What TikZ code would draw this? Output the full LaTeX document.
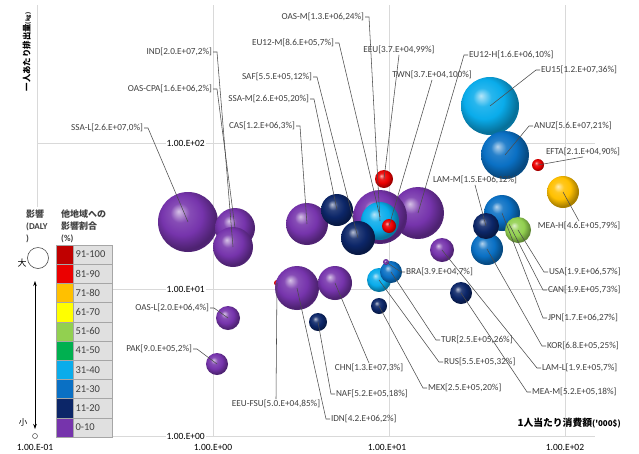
\documentclass[tikz,border=0pt]{standalone}
\usepackage{fontspec}
\setmainfont{Carlito}
\newfontfamily\jp{Noto Sans CJK JP}
\usetikzlibrary{arrows.meta}

\definecolor{cpur}{RGB}{118,52,172}
\definecolor{cnavy}{RGB}{12,38,104}
\definecolor{clblue}{RGB}{10,172,235}
\definecolor{cblue}{RGB}{10,112,196}
\definecolor{cred}{RGB}{235,0,0}
\definecolor{cdred}{RGB}{192,0,0}
\definecolor{cgold}{RGB}{255,192,0}
\definecolor{cyel}{RGB}{255,255,0}
\definecolor{clgreen}{RGB}{146,208,80}
\definecolor{cgreen}{RGB}{0,176,80}
\definecolor{gridc}{RGB}{217,217,217}
\definecolor{txt}{RGB}{64,64,64}
\definecolor{cellc}{RGB}{224,224,224}

\colorlet{sphc}{cpur}
\pgfdeclareradialshading[sphc]{sphere}{\pgfqpoint{-8bp}{9bp}}{%
  color(0bp)=(sphc!30!white); color(8bp)=(sphc!88!white);
  color(17bp)=(sphc); color(27bp)=(sphc!65!black);
  color(35bp)=(sphc!80!black); color(50bp)=(sphc!80!black)}

\begin{document}
\begin{tikzpicture}[x=1pt,y=-1pt,
  sphcol/.code={\colorlet{sphc}{#1}},
  sph/.style={circle, inner sep=0pt, draw=none, shading=sphere},
  lbl/.style={font=\fontsize{9.2}{11}\selectfont, text=txt, inner sep=0.8pt},
  axl/.style={font=\fontsize{9.5}{11}\selectfont, text=black, inner sep=1pt},
  lead/.style={draw=black!70, line width=0.55pt},
  gridln/.style={draw=gridc, line width=0.7pt},
  cell/.style={draw=black!35, line width=0.5pt, minimum width=17pt, minimum height=19.2pt, inner sep=0pt},
  lcell/.style={draw=black!35, fill=cellc, line width=0.5pt, minimum width=39pt, minimum height=19.2pt, inner sep=0pt, font=\fontsize{10.5}{12}\selectfont, text=txt},
]
\fill[white] (0,0) rectangle (639,453);
\useasboundingbox (0,0) rectangle (639,453);

% grid
\foreach \gx in {37,213,389,565} \draw[gridln] (\gx,5) -- (\gx,436);
\foreach \gy in {143,289,436} \draw[gridln] (37,\gy) -- (595,\gy);

% axis value labels
\node[axl, anchor=east, fill=white] (y2) at (206,143) {1.00.E+02};
\node[axl, anchor=east, fill=white] (y1) at (206,289) {1.00.E+01};
\node[axl, anchor=east, fill=white] (y0) at (206,436) {1.00.E+00};
\node[axl] (xm1) at (35,447) {1.00.E-01};
\node[axl] (x0) at (213,447) {1.00.E+00};
\node[axl] (x1) at (387,447) {1.00.E+01};
\node[axl] (x2) at (565,447) {1.00.E+02};

% axis titles
\node[rotate=90, font=\jp\bfseries\fontsize{8.4}{10}\selectfont, inner sep=0pt] (ytitle) at (27,52)
  {一人あたり排出量{\fontsize{5.5}{6}\selectfont(kg)}};
\node[anchor=east, font=\jp\bfseries\fontsize{9.8}{11}\selectfont, inner sep=0pt] (xtitle) at (621,423)
  {1人当たり消費額{\fontsize{8}{9}\selectfont('000\$)}};

% spheres
\node[sph, sphcol=cpur,  minimum size=60pt] (Bssal) at (188,222) {};
\node[sph, sphcol=cpur,  minimum size=40pt] (Boascpa) at (235,228) {};
\node[sph, sphcol=cpur,  minimum size=40pt] (Bind) at (233,247) {};
\node[sph, sphcol=cpur,  minimum size=42pt] (Bcas) at (307,224) {};
\node[sph, sphcol=cpur,  minimum size=52pt] (Beu12h) at (418,213) {};
\node[sph, sphcol=cnavy, minimum size=32pt] (Bssam) at (337,210) {};
\node[sph, sphcol=cpur,  minimum size=54pt] (Beu12m) at (380,217) {};
\node[sph, sphcol=clblue,minimum size=38pt] (Boasm) at (380,221) {};
\node[sph, sphcol=cred,  minimum size=14pt] (Btwn) at (389,226) {};
\node[sph, sphcol=cred,  minimum size=18pt] (Beeu) at (384,179) {};
\node[sph, sphcol=cnavy, minimum size=34pt] (Bsaf) at (358,238) {};
\node[sph, sphcol=cpur,  minimum size=24pt] (Blaml) at (442,250) {};
\node[sph, sphcol=clblue,minimum size=24pt] (Brus) at (379,280) {};
\node[sph, sphcol=cblue, minimum size=22pt] (Btur) at (391,272) {};
\node[sph, sphcol=cpur,  minimum size=6pt] (Bbra) at (386,262) {};
\node[sph, sphcol=cnavy, minimum size=16pt] (Bmex) at (379,306) {};
\node[sph, sphcol=cnavy, minimum size=22pt] (Bmeam) at (461,293) {};
\node[sph, sphcol=cred,  minimum size=6pt] (Beeufsu) at (277,283) {};
\node[sph, sphcol=cpur,  minimum size=44pt] (Bidn) at (297,288) {};
\node[sph, sphcol=cpur,  minimum size=34pt] (Bchn) at (335,283) {};
\node[sph, sphcol=cnavy, minimum size=18pt] (Bnaf) at (318,322) {};
\node[sph, sphcol=cpur,  minimum size=24pt] (Boasl) at (228,318) {};
\node[sph, sphcol=cpur,  minimum size=22pt] (Bpak) at (217,364) {};
\node[sph, sphcol=clblue,minimum size=58pt] (Beu15) at (490,106) {};
\node[sph, sphcol=cblue, minimum size=48pt] (Banuz) at (505,155) {};
\node[sph, sphcol=cred,  minimum size=12pt] (Befta) at (538,165) {};
\node[sph, sphcol=cgold, minimum size=32pt] (Bmeah) at (563,192) {};
\node[sph, sphcol=cblue, minimum size=36pt] (Bjpn) at (502,213) {};
\node[sph, sphcol=cblue, minimum size=32pt] (Bkor) at (487,249) {};
\node[sph, sphcol=cnavy, minimum size=26pt] (Blamm) at (486,226) {};
\node[sph, sphcol=clgreen,minimum size=26pt] (Busa) at (518,230) {};
\coordinate (Pcan) at (509,224);

% labels: leader to the right of the text
\node[lbl, anchor=east] (Lind) at (213,52) {IND[2.0.E+07,2\%]};
\node[lbl, anchor=east] (Loascpa) at (213,89) {OAS-CPA[1.6.E+06,2\%]};
\node[lbl, anchor=east] (Lssal) at (144,128) {SSA-L[2.6.E+07,0\%]};
\node[lbl, anchor=east] (Loasm) at (365,17) {OAS-M[1.3.E+06,24\%]};
\node[lbl, anchor=east] (Leu12m) at (335,43) {EU12-M[8.6.E+05,7\%]};
\node[lbl, anchor=east] (Lsaf) at (313,77) {SAF[5.5.E+05,12\%]};
\node[lbl, anchor=east] (Lssam) at (310,99) {SSA-M[2.6.E+05,20\%]};
\node[lbl, anchor=east] (Lcas) at (296,126) {CAS[1.2.E+06,3\%]};
\node[lbl, anchor=east] (Loasl) at (210,308) {OAS-L[2.0.E+06,4\%]};
\node[lbl, anchor=east] (Lpak) at (193,349) {PAK[9.0.E+05,2\%]};
% centred labels
\node[lbl] (Leeu) at (399,50) {EEU[3.7.E+04,99\%]};
\node[lbl] (Ltwn) at (432,75) {TWN[3.7.E+04,100\%]};
\node[lbl] (Lefta) at (583,152) {EFTA[2.1.E+04,90\%]};
\node[lbl] (Llamm) at (475,180) {LAM-M[1.5.E+06,12\%]};
\node[lbl] (Lmeah) at (579,226) {MEA-H[4.6.E+05,79\%]};
\node[lbl] (Lchn) at (369,368) {CHN[1.3.E+07,3\%]};
\node[lbl] (Leeufsu) at (276,404) {EEU-FSU[5.0.E+04,85\%]};
% leader to the left of the text
\node[lbl, anchor=west] (Leu12h) at (468,55) {EU12-H[1.6.E+06,10\%]};
\node[lbl, anchor=west] (Leu15) at (540,70) {EU15[1.2.E+07,36\%]};
\node[lbl, anchor=west] (Lanuz) at (533,126) {ANUZ[5.6.E+07,21\%]};
\node[lbl, anchor=west] (Lusa) at (548,272) {USA[1.9.E+06,57\%]};
\node[lbl, anchor=west] (Lcan) at (547,290) {CAN[1.9.E+05,73\%]};
\node[lbl, anchor=west] (Ljpn) at (547,318) {JPN[1.7.E+06,27\%]};
\node[lbl, anchor=west] (Lkor) at (546,346) {KOR[6.8.E+05,25\%]};
\node[lbl, anchor=west] (Llaml) at (541,368) {LAM-L[1.9.E+05,7\%]};
\node[lbl, anchor=west] (Lmeam) at (531,392) {MEA-M[5.2.E+05,18\%]};
\node[lbl, anchor=west] (Lbra) at (405,272) {BRA[3.9.E+04,7\%]};
\node[lbl, anchor=west] (Ltur) at (440,340) {TUR[2.5.E+05,26\%]};
\node[lbl, anchor=west] (Lrus) at (443,362) {RUS[5.5.E+05,32\%]};
\node[lbl, anchor=west] (Lmex) at (427,388) {MEX[2.5.E+05,20\%]};
\node[lbl, anchor=west] (Lnaf) at (335,394) {NAF[5.2.E+05,18\%]};
\node[lbl, anchor=west] (Lidn) at (330,419) {IDN[4.2.E+06,2\%]};

% leaders
\foreach \n in {ind,oascpa,ssal,oasm,eu12m,saf,ssam,cas,oasl,pak}
  \draw[lead] (L\n.east) -- ++(4,0) -- (B\n.center);
\foreach \n in {eu12h,eu15,anuz,usa,jpn,kor,laml,meam,bra,tur,rus,mex,naf,idn}
  \draw[lead] (L\n.west) -- ++(-4,0) -- (B\n.center);
\draw[lead] (Lcan.west) -- ++(-4,0) -- (Pcan);
\draw[lead] (Leeu.south) -- (Beeu.center);
\draw[lead] (Ltwn.south) -- (Btwn.center);
\draw[lead] (Lefta.south) -- (Befta.center);
\draw[lead] (Llamm.south) -- (Blamm.center);
\draw[lead] (Lmeah.north) -- (Bmeah.center);
\draw[lead] (Lchn.north) -- (Bchn.center);
\draw[lead] (Leeufsu.north) -- (Beeufsu.center);

% legend
\fill[white] (14,207) rectangle (113,442);
\node[anchor=north west, align=left, inner sep=0pt, font=\bfseries\fontsize{9}{12}\selectfont, text=txt] (lgA) at (26,210)
  {{\jp 影響}\\(DALY\\)};
\node[anchor=north west, align=left, inner sep=0pt, font=\jp\bfseries\fontsize{9}{12}\selectfont, text=txt] (lgB) at (61,210)
  {他地域への\\影響割合\\{\rmfamily\bfseries(\%)}};
\node[circle, draw=black!70, fill=white, minimum size=21pt, inner sep=0pt, line width=0.6pt] (bigc) at (38,258) {};
\node[font=\jp\fontsize{9}{10}\selectfont, inner sep=0pt] (dai) at (22,263) {大};
\node[circle, draw=black!70, fill=white, minimum size=5pt, inner sep=0pt, line width=0.5pt] (smallc) at (35,436) {};
\node[font=\jp\fontsize{8.5}{10}\selectfont, inner sep=0pt] (sho) at (23,422) {小};
\coordinate (atop) at (35,281);
\coordinate (abot) at (35,429);
\draw[line width=0.6pt, {Stealth[length=5pt,width=3.5pt]}-{Stealth[length=5pt,width=3.5pt]}] (atop) -- (abot);

\foreach \c/\t [count=\i from 0] in {cdred/91-100,cred/81-90,cgold/71-80,cyel/61-70,clgreen/51-60,cgreen/41-50,clblue/31-40,cblue/21-30,cnavy/11-20,cpur/0-10}{
  \node[cell, fill=\c] (cc\i) at (64.5,254.6+19.2*\i) {};
  \node[lcell, text width=34pt, align=left] (lc\i) at (92.5,254.6+19.2*\i) {\t};
}
\end{tikzpicture}
\end{document}
